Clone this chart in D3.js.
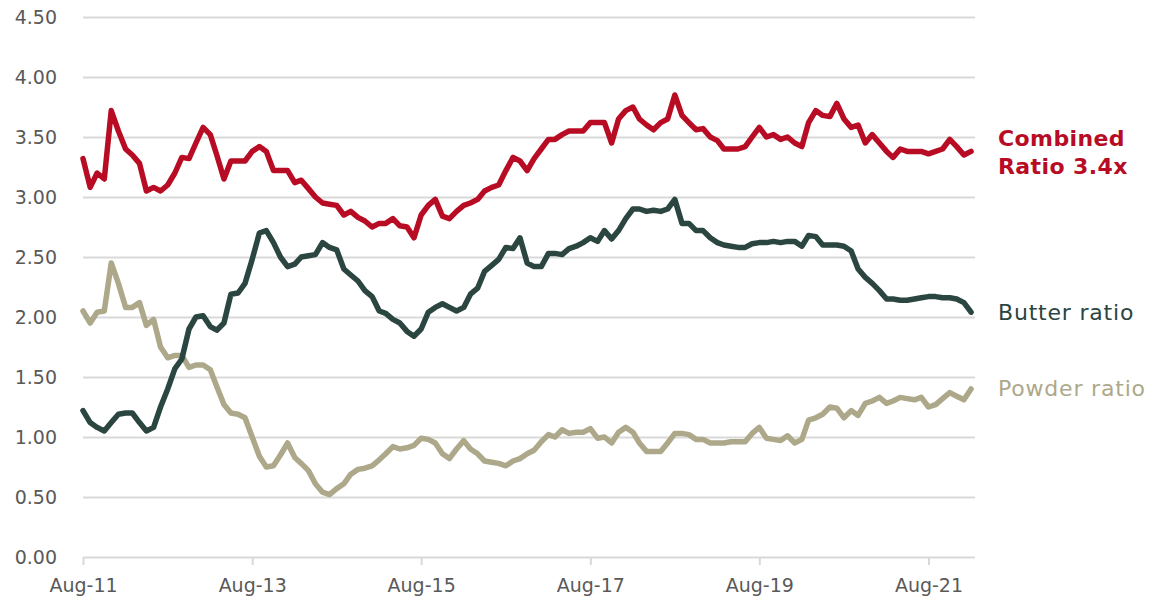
<!DOCTYPE html>
<html>
<head>
<meta charset="utf-8">
<script src="https://cdnjs.cloudflare.com/ajax/libs/d3/7.8.5/d3.min.js"></script>
<style>
  body { margin: 0; background: #fff; }
  svg { display: block; font-family: "DejaVu Sans", sans-serif; }
  .grid line { stroke: #d9d9d9; stroke-width: 2px; }
  .tick text { fill: #595959; font-family: "DejaVu Sans", sans-serif; font-size: 19px; }
</style>
</head>
<body>
<svg id="chart"></svg>
<script>
(function() {

  // monthly observations, Aug-11 .. Feb-22
  const months = d3.timeMonth.range(new Date(2011, 7, 1), new Date(2022, 2, 1))

  const combinedRatio = [
    3.32, 3.08, 3.20, 3.15, 3.72, 3.55, 3.40, 3.35, 3.28, 3.05,
    3.08, 3.05, 3.10, 3.20, 3.33, 3.32, 3.45, 3.58, 3.52, 3.35,
    3.15, 3.30, 3.30, 3.30, 3.38, 3.42, 3.38, 3.22, 3.22, 3.22,
    3.12, 3.14, 3.07, 3.00, 2.95, 2.94, 2.93, 2.85, 2.88, 2.83,
    2.80, 2.75, 2.78, 2.78, 2.82, 2.76, 2.75, 2.66, 2.85, 2.93,
    2.98, 2.84, 2.82, 2.88, 2.93, 2.95, 2.98, 3.05, 3.08, 3.10,
    3.22, 3.33, 3.30, 3.22, 3.32, 3.40, 3.48, 3.48, 3.52, 3.55,
    3.55, 3.55, 3.62, 3.62, 3.62, 3.45, 3.65, 3.72, 3.75, 3.65,
    3.60, 3.56, 3.62, 3.65, 3.85, 3.68, 3.62, 3.56, 3.57, 3.50,
    3.47, 3.40, 3.40, 3.40, 3.42, 3.50, 3.58, 3.50, 3.52, 3.48,
    3.50, 3.45, 3.42, 3.62, 3.72, 3.68, 3.67, 3.78, 3.65, 3.58,
    3.60, 3.45, 3.52, 3.45, 3.38, 3.33, 3.40, 3.38, 3.38, 3.38,
    3.36, 3.38, 3.40, 3.48, 3.42, 3.35, 3.38
  ]

  const butterRatio = [
    1.22, 1.12, 1.08, 1.05, 1.12, 1.19, 1.20, 1.20, 1.12, 1.05,
    1.08, 1.25, 1.40, 1.57, 1.65, 1.90, 2.00, 2.01, 1.92, 1.89,
    1.95, 2.19, 2.20, 2.28, 2.48, 2.70, 2.72, 2.62, 2.50, 2.42,
    2.44, 2.50, 2.51, 2.52, 2.62, 2.58, 2.56, 2.40, 2.35, 2.30,
    2.22, 2.17, 2.05, 2.03, 1.98, 1.95, 1.88, 1.84, 1.90, 2.04,
    2.08, 2.11, 2.08, 2.05, 2.08, 2.19, 2.24, 2.38, 2.43, 2.48,
    2.58, 2.57, 2.66, 2.45, 2.42, 2.42, 2.53, 2.53, 2.52, 2.57,
    2.59, 2.62, 2.66, 2.63, 2.72, 2.65, 2.72, 2.82, 2.90, 2.90,
    2.88, 2.89, 2.88, 2.90, 2.98, 2.78, 2.78, 2.72, 2.72, 2.66,
    2.62, 2.60, 2.59, 2.58, 2.58, 2.61, 2.62, 2.62, 2.63, 2.62,
    2.63, 2.63, 2.59, 2.68, 2.67, 2.60, 2.60, 2.60, 2.59, 2.55,
    2.40, 2.33, 2.28, 2.22, 2.15, 2.15, 2.14, 2.14, 2.15, 2.16,
    2.17, 2.17, 2.16, 2.16, 2.15, 2.12, 2.04
  ]

  const powderRatio = [
    2.05, 1.95, 2.04, 2.05, 2.45, 2.28, 2.08, 2.08, 2.12, 1.93,
    1.98, 1.75, 1.66, 1.68, 1.68, 1.58, 1.60, 1.60, 1.56, 1.42,
    1.27, 1.20, 1.19, 1.16, 1.00, 0.84, 0.75, 0.76, 0.85, 0.95,
    0.83, 0.78, 0.72, 0.61, 0.54, 0.52, 0.57, 0.61, 0.69, 0.73,
    0.74, 0.76, 0.81, 0.86, 0.92, 0.90, 0.91, 0.93, 0.99, 0.98,
    0.95, 0.86, 0.82, 0.90, 0.97, 0.90, 0.86, 0.80, 0.79, 0.78,
    0.76, 0.80, 0.82, 0.86, 0.89, 0.96, 1.02, 1.00, 1.06, 1.03,
    1.04, 1.04, 1.07, 0.99, 1.00, 0.95, 1.04, 1.08, 1.04, 0.95,
    0.88, 0.88, 0.88, 0.95, 1.03, 1.03, 1.02, 0.98, 0.98, 0.95,
    0.95, 0.95, 0.96, 0.96, 0.96, 1.03, 1.08, 0.99, 0.98, 0.97,
    1.01, 0.95, 0.98, 1.14, 1.16, 1.19, 1.25, 1.24, 1.16, 1.22,
    1.18, 1.28, 1.30, 1.33, 1.28, 1.30, 1.33, 1.32, 1.31, 1.33,
    1.25, 1.27, 1.32, 1.37, 1.34, 1.31, 1.40
  ]

  const yTicks = [0, 0.5, 1, 1.5, 2, 2.5, 3, 3.5, 4, 4.5]
  const xTicks = [2011, 2013, 2015, 2017, 2019, 2021].map(y => new Date(y, 7, 1))

  const seriesList = [
    {name: 'powder', values: powderRatio, color: '#ada88a', label: ['Powder ratio'], labelAt: 1.41, bold: false},
    {name: 'butter', values: butterRatio, color: '#2b4540', label: ['Butter ratio'], labelAt: 2.04, bold: false},
    {name: 'combined', values: combinedRatio, color: '#b80c24', label: ['Combined', 'Ratio 3.4x'], labelAt: 3.49, bold: true}
  ]

  const svgWidth = 1153
  const svgHeight = 597
  const margin = {top: 17, right: 178, bottom: 40, left: 83}

  const svg = d3.select('#chart')
    .attr('width', svgWidth)
    .attr('height', svgHeight)

  const x = d3.scaleTime()
    .domain([new Date(2011, 7, 1), new Date(2022, 1, 18)])
    .range([margin.left, svgWidth - margin.right])

  const y = d3.scaleLinear()
    .domain([0, 4.5])
    .range([svgHeight - margin.bottom, margin.top])

  // horizontal gridlines + y labels
  const yAxis = svg.append('g')
    .attr('class', 'grid')
    .attr('transform', `translate(${margin.left},0)`)
    .call(d3.axisLeft(y)
      .tickValues(yTicks)
      .tickFormat(d3.format('.2f'))
      .tickSize(-(svgWidth - margin.right - margin.left))
      .tickPadding(26))

  yAxis.select('.domain').remove()

  // x axis
  const xAxis = svg.append('g')
    .attr('transform', `translate(0,${y(0)})`)
    .call(d3.axisBottom(x)
      .tickValues(xTicks)
      .tickFormat(d3.timeFormat('%b-%y'))
      .tickSize(8)
      .tickPadding(14))

  xAxis.select('.domain').remove()
  xAxis.selectAll('.tick line')
    .attr('stroke', '#d9d9d9')
    .attr('stroke-width', 2)

  const line = d3.line()
    .x((d, i) => x(months[i]))
    .y(d => y(d))
    .curve(d3.curveLinear)

  svg.append('g')
    .selectAll('.series')
    .data(seriesList)
    .enter()
    .append('path')
    .classed('series', true)
    .attr('d', d => line(d.values))
    .attr('fill', 'none')
    .attr('stroke', d => d.color)
    .attr('stroke-width', 5.5)
    .attr('stroke-linejoin', 'round')
    .attr('stroke-linecap', 'round')

  // end labels
  const labels = svg.append('g')
    .selectAll('.label')
    .data(seriesList)
    .enter()
    .append('text')
    .classed('label', true)
    .attr('x', 998)
    .attr('y', d => y(d.labelAt))
    .attr('fill', d => d.color)
    .style('font-size', '22px')
    .style('font-weight', d => d.bold ? 'bold' : 'normal')
    .style('letter-spacing', d => d.bold ? '0.4px' : '0.8px')

  labels.selectAll('tspan')
    .data(d => d.label)
    .enter()
    .append('tspan')
    .attr('x', 998)
    .attr('dy', (d, i) => i === 0 ? '0.35em' : '28px')
    .text(d => d)

})()
</script>
</body>
</html>
